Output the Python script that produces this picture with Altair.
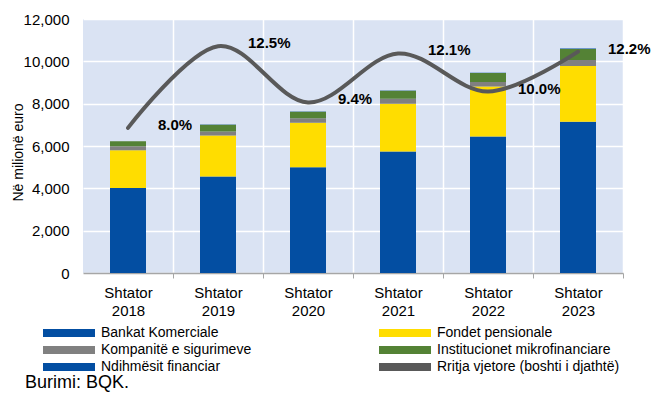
import altair as alt
import pandas as pd

years = ["2018", "2019", "2020", "2021", "2022", "2023"]
bankat = [4020, 4560, 5000, 5745, 6450, 7150]
fondet = [1775, 1940, 2095, 2250, 2360, 2630]
sigurime = [190, 190, 220, 235, 210, 285]
mikro = [235, 315, 300, 380, 425, 520]
ndihmes = [10, 10, 10, 10, 15, 20]
growth = [8.0, 12.5, 9.4, 12.1, 10.0, 12.2]

series_names = [
    "Bankat Komerciale",
    "Fondet pensionale",
    "Kompanitë e sigurimeve",
    "Institucionet mikrofinanciare",
    "Ndihmësit financiar",
    "Rritja vjetore (boshti i djathtë)",
]
series_colors = ["#034EA2", "#FFDD00", "#808080", "#548235", "#034EA2", "#595959"]
# legend is filled column by column: left column first, then right column
legend_order = [0, 2, 4, 1, 3, 5]

bar_series = [bankat, fondet, sigurime, mikro, ndihmes]
rows = []
for si, vals in enumerate(bar_series):
    for y, v in zip(years, vals):
        rows.append({"year": y, "series": series_names[si], "value": v, "order": si})
bars_df = pd.DataFrame(rows)
line_df = pd.DataFrame({"year": years, "growth": growth,
                        "series": series_names[5],
                        "label": [f"{g:.1f}%" for g in growth]})

FONT = "Liberation Sans"

color_scale = alt.Scale(domain=[series_names[i] for i in legend_order],
                        range=[series_colors[i] for i in legend_order])

x_enc = alt.X(
    "year:N",
    sort=years,
    scale=alt.Scale(paddingInner=0.6, paddingOuter=0.3),
    axis=alt.Axis(
        title=None,
        labelExpr="datum.value ? ['Shtator', datum.value] : ''",
        labelAngle=0,
        labelFontSize=15,
        labelLineHeight=18,
        labelPadding=7,
        labelColor="black",
        labelFont=FONT,
        tickOffset=45,
        labelOffset=-45,
        tickSize=5,
        tickColor="#A6A6A6",
        domainColor="#A6A6A6",
        domainWidth=1.5,
        grid=True,
        gridColor="white",
        gridWidth=1.5,
    ),
)

legend = alt.Legend(
    title=None,
    orient="none",
    legendX=-43,
    legendY=307,
    columns=2,
    columnPadding=124,
    rowPadding=3,
    symbolType="M-1,-1L12,-1L12,1L-1,1Z",
    symbolSize=64,
    symbolStrokeWidth=0,
    labelFontSize=14,
    labelFont=FONT,
    labelColor="black",
    labelOffset=47,
    labelLimit=300,
    padding=0,
)

bars = alt.Chart(bars_df).mark_bar(size=36).encode(
    x=x_enc,
    y=alt.Y(
        "value:Q",
        stack="zero",
        scale=alt.Scale(domain=[0, 12000], nice=False),
        axis=alt.Axis(
            title="Në milionë euro",
            titleFont=FONT,
            titleFontSize=14,
            titleFontWeight="normal",
            titleColor="black",
            titleX=-58,
            titleY=133,
            values=[0, 2000, 4000, 6000, 8000, 10000, 12000],
            format=",.0f",
            labelFontSize=15,
            labelFont=FONT,
            labelColor="black",
            labelPadding=14,
            ticks=False,
            domain=False,
            grid=True,
            gridColor="white",
            gridWidth=1.5,
        ),
    ),
    color=alt.Color("series:N", scale=color_scale, legend=legend),
    order=alt.Order("order:Q", sort="ascending"),
)

y_right = alt.Y(
    "growth:Q",
    scale=alt.Scale(domain=[0, 14], nice=False),
    axis=alt.Axis(
        title=None,
        orient="right",
        values=[0, 2, 4, 6, 8, 10, 12, 14],
        labelExpr="datum.value + '%'",
        labelFontSize=15,
        labelFont=FONT,
        labelColor="black",
        labelPadding=14,
        ticks=False,
        domain=False,
        grid=False,
    ),
)

line = alt.Chart(line_df).mark_line(
    strokeWidth=4, strokeCap="round", interpolate="cardinal"
).encode(
    x=alt.X("year:N", sort=years),
    y=y_right,
    color=alt.Color("series:N", scale=color_scale, legend=legend),
)

labels = alt.Chart(line_df).mark_text(
    align="left", dx=30, dy=-3, fontSize=15, fontWeight="bold", font=FONT, color="black"
).encode(
    x=alt.X("year:N", sort=years),
    y=alt.Y("growth:Q", scale=alt.Scale(domain=[0, 14], nice=False), axis=None),
    text="label:N",
)

right = alt.layer(line, labels)

chart = alt.layer(bars, right).resolve_scale(y="independent").properties(
    width=540,
    height=254,
    autosize=alt.AutoSizeParams(type="none"),
    padding={"left": 75, "top": 11, "right": 40, "bottom": 119},
    title=alt.TitleParams(
        "Burimi: BQK.",
        orient="bottom",
        anchor="start",
        frame="group",
        baseline="alphabetic",
        fontSize=18,
        fontWeight="normal",
        font=FONT,
        color="black",
        dx=-58,
        offset=14,
    ),
).configure_view(fill="#DAE3F3", stroke=None)

chart.save("out.html", embed_options={"renderer": "svg", "actions": False})
